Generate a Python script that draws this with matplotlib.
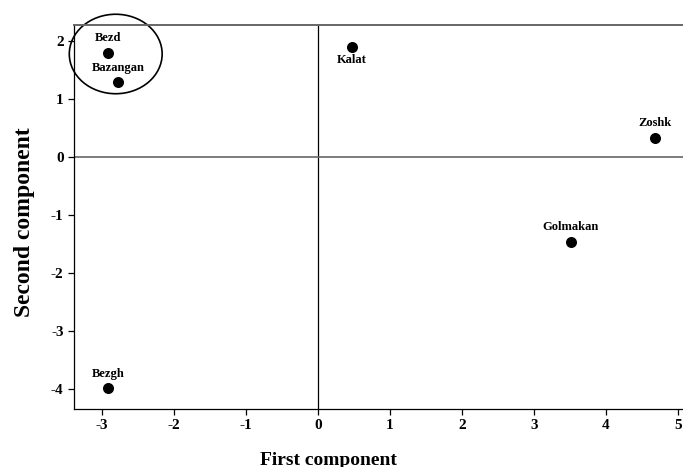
import matplotlib
matplotlib.use("Agg")
import matplotlib.pyplot as plt
from matplotlib.patches import Ellipse

plt.rcParams['font.family'] = ['Liberation Serif', 'DejaVu Serif']
plt.rcParams['font.weight'] = 'bold'
plt.rcParams['axes.unicode_minus'] = False

# PCA scores
sites = ["Bezd", "Bazangan", "Kalat", "Zoshk", "Golmakan", "Bezgh"]
first = [-2.92, -2.78, 0.47, 4.68, 3.51, -2.92]
second = [1.80, 1.29, 1.90, 0.34, -1.46, -3.98]
label_above = [True, True, False, True, True, True]

xticks = [-3, -2, -1, 0, 1, 2, 3, 4, 5]
yticks = [-4, -3, -2, -1, 0, 1, 2]

fig = plt.figure(figsize=(6.83, 4.67), dpi=100)
ax = fig.add_axes([0.1083, 0.1242, 0.8917, 0.8223])

ax.scatter(first, second, s=48, color='black', zorder=3)

for name, x, y, up in zip(sites, first, second, label_above):
    dy = 10.5 if up else -9.5
    ax.annotate(name, (x, y), xytext=(0, dy), textcoords='offset points',
                ha='center', va='center', fontsize=9, fontweight='bold')

# reference lines through the origin
ax.axvline(0, color='black', lw=0.9, zorder=1)
ax.axhline(0, color='#666666', lw=1.2, zorder=1)

# circle around the Bezd / Bazangan group
ring = Ellipse((-2.81, 1.78), 1.29, 1.37, fill=False, color='black',
               lw=1.2, clip_on=False)
ax.add_patch(ring)

ax.set_xlim(-3.39, 5.07)
ax.set_ylim(-4.34, 2.28)
ax.set_xticks(xticks)
ax.set_yticks(yticks)
ax.tick_params(direction='out', length=4, width=0.9, labelsize=11)
for lab in ax.get_xticklabels() + ax.get_yticklabels():
    lab.set_fontweight('bold')

ax.spines['right'].set_visible(False)
ax.spines['top'].set_color('#666666')
ax.spines['top'].set_linewidth(1.4)
for s in ['left', 'bottom']:
    ax.spines[s].set_linewidth(0.9)

ax.set_xlabel("First component", fontsize=14, fontweight='bold', va='center')
ax.set_ylabel("Second component", fontsize=17, fontweight='bold', va='center')
ax.xaxis.set_label_coords((328 - 74) / 609, -(460 - 409) / 384)
ax.yaxis.set_label_coords(-(74 - 25) / 609, (409 - 222) / 384)

fig.savefig("out.png", dpi=100)
